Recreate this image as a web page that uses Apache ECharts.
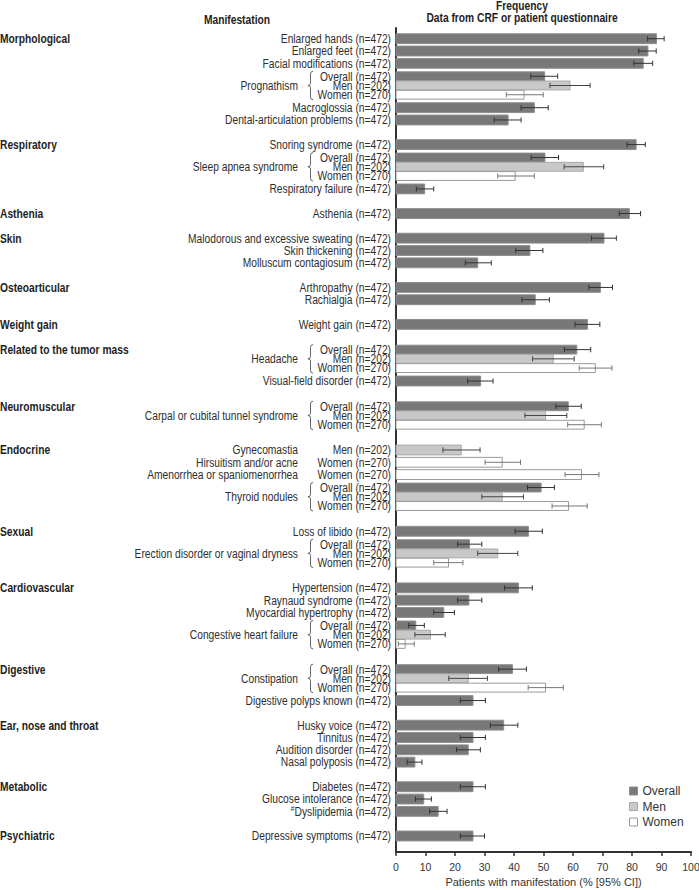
<!DOCTYPE html>
<html>
<head>
<meta charset="utf-8">
<script src="https://cdn.jsdelivr.net/npm/echarts@6/dist/echarts.min.js"></script>
<style>
html,body{margin:0;padding:0;background:#fff;}
#chart{width:699px;height:890px;}
</style>
</head>
<body>
<div id="chart"></div>
<script>
// ---------------- DATA ----------------
const groupNames = ['Morphological','Respiratory','Asthenia','Skin','Osteoarticular','Weight gain',
  'Related to the tumor mass','Neuromuscular','Endocrine','Sexual','Cardiovascular','Digestive',
  'Ear, nose and throat','Metabolic','Psychiatric'];

const rowGroupIndex = [0,0,0,0,0,0,0,0, 1,1,1,1,1, 2, 3,3,3, 4,4, 5, 6,6,6,6, 7,7,7,
  8,8,8,8,8,8, 9,9,9,9, 10,10,10,10,10,10, 11,11,11,11, 12,12,12,12, 13,13,13, 14];

const rowLabels = [
  'Enlarged hands (n=472)','Enlarged feet (n=472)','Facial modifications (n=472)',
  'Overall (n=472)','Men (n=202)','Women (n=270)',
  'Macroglossia (n=472)','Dental-articulation problems (n=472)',
  'Snoring syndrome (n=472)','Overall (n=472)','Men (n=202)','Women (n=270)','Respiratory failure (n=472)',
  'Asthenia (n=472)',
  'Malodorous and excessive sweating (n=472)','Skin thickening (n=472)','Molluscum contagiosum (n=472)',
  'Arthropathy (n=472)','Rachialgia (n=472)',
  'Weight gain (n=472)',
  'Overall (n=472)','Men (n=202)','Women (n=270)','Visual-field disorder (n=472)',
  'Overall (n=472)','Men (n=202)','Women (n=270)',
  'Men (n=202)','Women (n=270)','Women (n=270)','Overall (n=472)','Men (n=202)','Women (n=270)',
  'Loss of libido (n=472)','Overall (n=472)','Men (n=202)','Women (n=270)',
  'Hypertension (n=472)','Raynaud syndrome (n=472)','Myocardial hypertrophy (n=472)',
  'Overall (n=472)','Men (n=202)','Women (n=270)',
  'Overall (n=472)','Men (n=202)','Women (n=270)','Digestive polyps known (n=472)',
  'Husky voice (n=472)','Tinnitus (n=472)','Audition disorder (n=472)','Nasal polyposis (n=472)',
  'Diabetes (n=472)','Glucose intolerance (n=472)','#Dyslipidemia (n=472)',
  'Depressive symptoms (n=472)'
];

const rowParents = [
  '','','','Prognathism','Prognathism','Prognathism','','',
  '','Sleep apnea syndrome','Sleep apnea syndrome','Sleep apnea syndrome','',
  '',
  '','','',
  '','',
  '',
  'Headache','Headache','Headache','',
  'Carpal or cubital tunnel syndrome','Carpal or cubital tunnel syndrome','Carpal or cubital tunnel syndrome',
  'Gynecomastia','Hirsuitism and/or acne','Amenorrhea or spaniomenorrhea','Thyroid nodules','Thyroid nodules','Thyroid nodules',
  '','Erection disorder or vaginal dryness','Erection disorder or vaginal dryness','Erection disorder or vaginal dryness',
  '','','','Congestive heart failure','Congestive heart failure','Congestive heart failure',
  'Constipation','Constipation','Constipation','',
  '','','','',
  '','','',
  ''
];

const rowSubsets = [
  'Overall','Overall','Overall','Overall','Men','Women','Overall','Overall',
  'Overall','Overall','Men','Women','Overall',
  'Overall',
  'Overall','Overall','Overall',
  'Overall','Overall',
  'Overall',
  'Overall','Men','Women','Overall',
  'Overall','Men','Women',
  'Men','Women','Women','Overall','Men','Women',
  'Overall','Overall','Men','Women',
  'Overall','Overall','Overall','Overall','Men','Women',
  'Overall','Men','Women','Overall',
  'Overall','Overall','Overall','Overall',
  'Overall','Overall','Overall',
  'Overall'
];

const pctValues = [88.3,85.4,83.8,50.4,59.0,43.4,46.9,38.0,
  81.4,50.5,63.5,40.4,9.7,
  79.1,
  70.5,45.4,27.7,
  69.3,47.2,
  64.9,
  61.3,53.3,67.6,28.7,
  58.4,50.7,63.8,
  22.1,36.0,62.9,49.2,36.0,58.5,
  44.9,24.9,34.5,17.8,
  41.5,24.7,16.2,6.7,11.7,3.1,
  39.5,24.5,50.7,26.1,
  36.5,26.1,24.5,6.4,
  26.1,9.4,14.3,
  26.1];

const ciLow = [85.3,82.3,80.6,45.7,52.2,37.4,42.4,33.3,
  78.3,45.8,57.0,34.5,6.9,
  75.7,
  66.3,40.6,23.5,
  65.4,42.7,
  60.7,
  57.1,46.3,62.1,24.3,
  54.2,43.7,58.2,
  15.9,30.2,57.3,44.6,29.1,52.9,
  40.4,20.9,27.7,12.8,
  36.8,20.9,12.8,4.3,6.4,0.8,
  34.8,17.9,44.8,21.8,
  32.0,21.8,20.5,3.8,
  21.8,6.6,11.4,
  21.8];

const ciHigh = [90.9,88.2,87.0,54.8,65.8,49.9,51.6,42.4,
  84.5,55.1,70.4,46.9,12.8,
  82.9,
  74.7,49.8,32.3,
  73.4,52.0,
  69.1,
  66.0,60.4,73.2,32.9,
  62.8,57.9,69.6,
  28.5,42.2,68.8,53.7,43.2,64.8,
  49.6,29.1,41.3,22.7,
  46.2,29.1,19.8,9.6,16.7,6.2,
  44.2,31.0,56.7,30.3,
  41.3,30.3,28.6,8.8,
  30.3,12.0,17.3,
  30.0];

const subsetNames = ['Overall','Men','Women'];
const xTicks = [0,10,20,30,40,50,60,70,80,90,100];

// ---------------- LAYOUT / STYLE ----------------
const FONT = "'Liberation Sans', Arial, sans-serif";
const FS = 12.5;      // font size of labels
const SX = 0.82;      // horizontal condensing (reference uses a narrow face)
const TXT = '#2e2e2e';
const styles = {
  Overall: {fill:'#787878', stroke:'#8e8e8e', err:'#333333'},
  Men:     {fill:'#c8c8c8', stroke:'#a9a9a9', err:'#444444'},
  Women:   {fill:'#ffffff', stroke:'#9a9a9a', err:'#777777'}
};

const N = rowLabels.length;
function isBrace(i){
  const p = rowParents[i];
  if (!p) return false;
  return (i > 0 && rowParents[i-1] === p) || (i < N-1 && rowParents[i+1] === p);
}
const yPos = [];
for (let i = 0; i < N; i++) {
  if (i === 0) { yPos.push(0); continue; }
  const groupChange = rowGroupIndex[i] !== rowGroupIndex[i-1];
  let step = groupChange ? 2 : 1;
  if (!groupChange && isBrace(i) && isBrace(i-1) && rowParents[i] === rowParents[i-1]) step = 0.75;
  else if (isBrace(i) || isBrace(i-1)) step += 0.05;
  yPos.push(yPos[i-1] + step);
}

function txt(x, y, text, extra){
  const st = Object.assign({text: text, align:'right', verticalAlign:'middle', fill: TXT,
    fontSize: FS, fontFamily: FONT}, extra || {});
  return {type:'text', x: x, y: y, scaleX: SX, scaleY: 1, originX: 0, originY: 0, style: st};
}

function barSeries(name){
  const data = [];
  for (let i = 0; i < N; i++) {
    if (rowSubsets[i] === name) data.push([pctValues[i], yPos[i], ciLow[i], ciHigh[i], isBrace(i) ? 1 : 0]);
  }
  const st = styles[name];
  return {
    name: name,
    type: 'custom',
    coordinateSystem: 'cartesian2d',
    itemStyle: {color: st.fill, borderColor: st.stroke, borderWidth: 1},
    encode: {x: 0, y: 1},
    dimensions: ['pct','pos','lo','hi','brace'],
    data: data,
    renderItem: function(params, api){
      const v = api.value(0), y = api.value(1), lo = api.value(2), hi = api.value(3), br = api.value(4);
      const p0 = api.coord([0, y]);
      const p1 = api.coord([v, y]);
      const h = api.size([0, br ? 0.72 : 0.8])[1];
      const pl = api.coord([lo, y]);
      const ph = api.coord([hi, y]);
      const cap = 2.6;
      const d = 'M' + pl[0] + ' ' + (pl[1]-cap) + ' L' + pl[0] + ' ' + (pl[1]+cap) +
        ' M' + pl[0] + ' ' + pl[1] + ' L' + ph[0] + ' ' + ph[1] +
        ' M' + ph[0] + ' ' + (ph[1]-cap) + ' L' + ph[0] + ' ' + (ph[1]+cap);
      return {
        type: 'group',
        children: [
          {type:'rect', shape:{x:p0[0], y:p0[1]-h/2, width:p1[0]-p0[0], height:h},
           style:{fill:st.fill, stroke:st.stroke, lineWidth:1}},
          {type:'path', shape:{pathData: d}, style:{fill:'none', stroke:st.err, lineWidth:1}}
        ]
      };
    }
  };
}

const labelData = [];
for (let i = 0; i < N; i++) labelData.push([0, yPos[i], i]);

const labelSeries = {
  type: 'custom',
  coordinateSystem: 'cartesian2d',
  silent: true,
  clip: false,
  encode: {x: 0, y: 1},
  data: labelData,
  renderItem: function(params, api){
    const y = api.value(1);
    const i = api.value(2);
    const p = api.coord([0, y]);
    const ax = p[0];
    const children = [];
    const lbl = rowLabels[i];
    if (lbl.charAt(0) === '#') {
      children.push(txt(ax - 5, p[1], '{s|#}' + lbl.slice(1), {
        rich: {s: {fontSize: 8, fontFamily: FONT, fill: TXT, padding: [0,0,7,0]}}
      }));
    } else {
      children.push(txt(ax - 5, p[1], lbl));
    }
    if (i === 0 || rowGroupIndex[i] !== rowGroupIndex[i-1]) {
      children.push(txt(0, p[1], groupNames[rowGroupIndex[i]], {align:'left', fontWeight:'bold', fill:'#1e1e1e'}));
    }
    const par = rowParents[i];
    if (par) {
      const brace = isBrace(i);
      const isFirst = !(i > 0 && rowParents[i-1] === par);
      const isMid = brace && i > 0 && rowParents[i-1] === par && rowParents[i+1] === par;
      if (!brace || isMid) {
        children.push(txt(ax - 98, p[1], par));
      }
      if (brace && isFirst) {
        let j = i; while (j + 1 < N && rowParents[j+1] === par) j++;
        const top = p[1] - 5;
        const bot = api.coord([0, yPos[j]])[1] + 5;
        const mid = (top + bot) / 2;
        const bx = ax - 85.5;
        const d = 'M' + (bx+2.6) + ' ' + top + ' Q' + bx + ' ' + top + ' ' + bx + ' ' + (top+2.6) +
          ' L' + bx + ' ' + (mid-2.2) + ' Q' + bx + ' ' + mid + ' ' + (bx-2.6) + ' ' + mid +
          ' Q' + bx + ' ' + mid + ' ' + bx + ' ' + (mid+2.2) +
          ' L' + bx + ' ' + (bot-2.6) + ' Q' + bx + ' ' + bot + ' ' + (bx+2.6) + ' ' + bot;
        children.push({type:'path', shape:{pathData: d}, style:{fill:'none', stroke:'#555', lineWidth:0.9}});
      }
    }
    return {type:'group', children: children};
  }
};

const chart = echarts.init(document.getElementById('chart'), null, {renderer: 'svg'});
chart.setOption({
  animation: false,
  backgroundColor: '#fff',
  grid: {left: 396, right: 8, top: 28, bottom: 38, containLabel: false, outerBoundsMode: 'none'},
  xAxis: {
    type: 'value', min: 0, max: 100, interval: 10,
    axisLine: {show: true, onZero: false, lineStyle: {color: '#333', width: 2}},
    axisTick: {show: true, length: 4, lineStyle: {color: '#333', width: 1.5}},
    axisLabel: {color: '#333', fontSize: 10.5, fontFamily: FONT, margin: 9,
      formatter: function(v){ return xTicks.indexOf(v) >= 0 ? String(v) : ''; }},
    splitLine: {show: false},
    name: 'Patients with manifestation (% [95% CI])',
    nameLocation: 'middle', nameGap: 23,
    nameTextStyle: {color: '#333', fontSize: 11, fontFamily: FONT}
  },
  yAxis: {
    type: 'value', inverse: true, min: -0.87, max: 66.05,
    axisLine: {show: true, onZero: false, lineStyle: {color: '#333', width: 2}},
    axisTick: {show: false}, axisLabel: {show: false}, splitLine: {show: false}
  },
  legend: {
    orient: 'vertical', left: 624, top: 779,
    itemWidth: 8, itemHeight: 8, itemGap: 1.5, icon: 'rect',
    textStyle: {color: '#333', fontSize: 12, fontFamily: FONT, lineHeight: 14},
    selectedMode: false,
    data: subsetNames.map(function(n){
      return {name: n, itemStyle: {color: styles[n].fill, borderColor: styles[n].stroke, borderWidth: 1}};
    })
  },
  graphic: [
    {type:'text', x: 237, y: 19.5, scaleX: SX, style:{text:'Manifestation', align:'center', verticalAlign:'middle',
      fill:'#1e1e1e', fontSize: FS, fontWeight:'bold', fontFamily: FONT}},
    {type:'text', x: 522, y: 6, scaleX: SX, style:{text:'Frequency', align:'center', verticalAlign:'middle',
      fill:'#1e1e1e', fontSize: FS, fontWeight:'bold', fontFamily: FONT}},
    {type:'text', x: 522, y: 17.5, scaleX: SX, style:{text:'Data from CRF or patient questionnaire', align:'center', verticalAlign:'middle',
      fill:'#1e1e1e', fontSize: FS, fontWeight:'bold', fontFamily: FONT}}
  ],
  series: [barSeries('Overall'), barSeries('Men'), barSeries('Women'), labelSeries]
});
</script>
</body>
</html>
